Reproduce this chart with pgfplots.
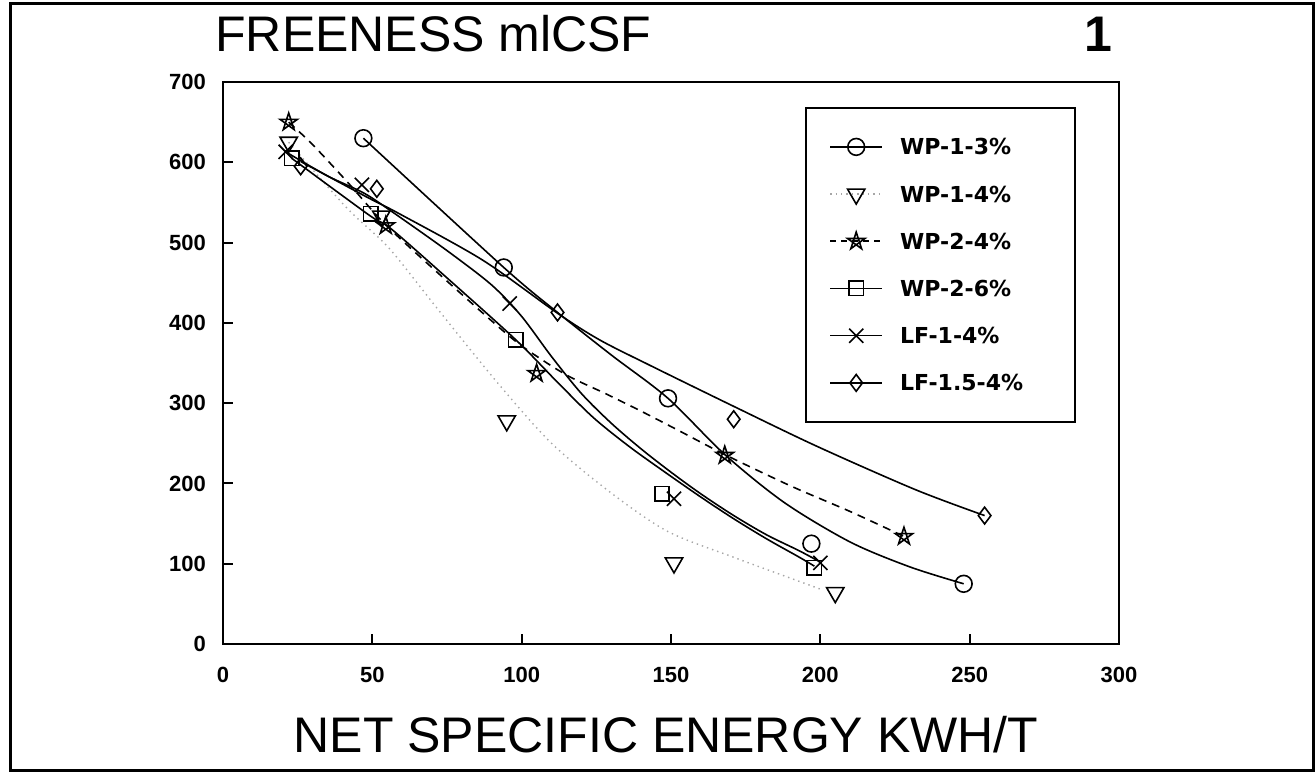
\documentclass[border=0pt]{standalone}
\usepackage{fontspec}
\setmainfont{Liberation Sans}
\newfontfamily\legfont{DejaVu Sans}
\usepackage{pgfplots}
\pgfplotsset{compat=1.18}
\pgfdeclareplotmark{pstar}{%
 \pgfpathmoveto{\pgfqpointpolar{90}{\pgfplotmarksize}}%
 \pgfpathlineto{\pgfqpointpolar{234}{\pgfplotmarksize}}%
 \pgfpathlineto{\pgfqpointpolar{18}{\pgfplotmarksize}}%
 \pgfpathlineto{\pgfqpointpolar{162}{\pgfplotmarksize}}%
 \pgfpathlineto{\pgfqpointpolar{306}{\pgfplotmarksize}}%
 \pgfpathclose\pgfusepathqstroke}
\pgfdeclareplotmark{dtri}{%
 \pgfpathmoveto{\pgfqpoint{0pt}{-\pgfplotmarksize}}%
 \pgfpathlineto{\pgfqpoint{0.866\pgfplotmarksize}{0.5\pgfplotmarksize}}%
 \pgfpathlineto{\pgfqpoint{-0.866\pgfplotmarksize}{0.5\pgfplotmarksize}}%
 \pgfpathclose\pgfusepathqstroke}
\begin{document}
\begin{tikzpicture}
\useasboundingbox (0,0) rectangle (658pt,386.5pt);
\draw[line width=1.5pt] (5pt,1.5pt) rectangle (656.5pt,384.5pt);
\node[anchor=base west, font=\fontsize{25}{25}\selectfont, inner sep=0] at (107.5pt,360.5pt) {FREENESS mlCSF};
\node[anchor=base, font=\bfseries\fontsize{25}{25}\selectfont, inner sep=0] at (549pt,360.5pt) {1};
\node[anchor=base, font=\fontsize{25}{25}\selectfont, inner sep=0] at (333pt,10.5pt) {NET SPECIFIC ENERGY KWH/T};
\begin{axis}[
 at={(111.5pt,64.5pt)}, anchor=south west,
 scale only axis, width=448pt, height=281pt,
 xmin=0, xmax=300, ymin=0, ymax=700,
 xtick={0,50,...,300}, ytick={0,100,...,700},
 tick align=inside, tick pos=left, major tick length=5pt,
 axis line style={line width=1.4pt},
 tick style={line width=1pt, black},
 ticklabel style={font=\bfseries\fontsize{11}{11}\selectfont},
 /pgf/number format/assume math mode=true,
 xticklabel style={yshift=-8pt}, yticklabel style={xshift=-5pt},
 legend cell align=left,
 legend style={at={(axis cs:195,669)}, anchor=north west, draw=black, line width=1pt,
   inner xsep=11.5pt, inner ysep=13.5pt, row sep=11.6pt,
   font=\legfont\bfseries\fontsize{11}{11}\selectfont,
   nodes={text height=8pt, text depth=0pt}},
]
% fitted curves
\addplot[forget plot, smooth, black, line width=0.8pt] coordinates {
 (47,630) (94,469) (112,413) (130,360) (149,306) (168,236) (188,176) (210,127) (230,96) (248,75)};
\addplot[forget plot, smooth, gray!70, dotted, line width=0.7pt] coordinates {
 (22,625) (41,545) (53,503) (59,478) (73,412) (92,325) (110,250) (130,188) (149,140) (171,108) (190,82) (201,67)};
\addplot[forget plot, smooth, black, dash pattern=on 4pt off 3pt, line width=0.8pt] coordinates {
 (22,650) (30,622) (42,574) (54.5,522) (75,452) (96,383) (106,356) (116,333) (128,312) (140,290) (152,267) (168,236) (190,197) (210,165) (228,134)};
\addplot[forget plot, smooth, black, line width=0.8pt] coordinates {
 (23,605) (49,534) (56,518) (75,456) (98,379) (112,326) (124,282) (136,246) (148,214) (160,183) (171,156) (182,131) (193,108) (198,97)};
\addplot[forget plot, smooth, black, line width=0.8pt] coordinates {
 (21,613) (35,583) (47,562) (56,540) (75,490) (90,447) (100,408) (110,358) (120,312) (130,275) (140,243) (150,214) (160,187) (171,160) (182,136) (193,116) (200,102)};
\addplot[forget plot, smooth, black, line width=0.8pt] coordinates {
 (26,601) (48,557) (59,536) (87,478) (112,412) (126,379) (143,347) (171,296) (199,246) (232,192) (255,160)};
% markers
\addplot[only marks, black, mark=o, mark size=4.2pt, line width=0.8pt,
 legend image code/.code={\draw[black,solid,line width=0.8pt] (0pt,0pt)--(26pt,0pt);
  \draw[black,solid,line width=0.8pt] plot[mark=o,mark size=4.2pt] coordinates {(13pt,0pt)};
  \path[draw=none] (0pt,0pt)--(33pt,0pt);}] coordinates {
 (47,630) (94,469) (149,306) (197,125) (248,75)};
\addlegendentry{\makebox[74pt][l]{WP-1-3\%}}
\addplot[only marks, black, mark=dtri, mark size=5pt, line width=0.8pt,
 legend image code/.code={\draw[gray!70,dotted,line width=0.7pt] (0pt,0pt)--(26pt,0pt);
  \draw[black,solid,line width=0.8pt] plot[mark=dtri,mark size=5pt] coordinates {(13pt,0pt)};
  \path[draw=none] (0pt,0pt)--(33pt,0pt);}] coordinates {
 (22,625) (53,533) (95,278) (151,101) (205,64)};
\addlegendentry{\makebox[74pt][l]{WP-1-4\%}}
\addplot[only marks, black, mark=pstar, mark size=4.6pt, line width=0.8pt,
 legend image code/.code={\draw[black,dash pattern=on 3pt off 2.5pt,line width=0.8pt] (0pt,0pt)--(26pt,0pt);
  \draw[black,solid,line width=0.8pt] plot[mark=pstar,mark size=4.6pt] coordinates {(13pt,0pt)};
  \path[draw=none] (0pt,0pt)--(33pt,0pt);}] coordinates {
 (22,650) (54.5,521) (105,337) (168,235) (228,134)};
\addlegendentry{\makebox[74pt][l]{WP-2-4\%}}
\addplot[only marks, black, mark=square, mark size=3.6pt, line width=0.8pt,
 legend image code/.code={\draw[black,solid,line width=0.8pt] (0pt,0pt)--(26pt,0pt);
  \draw[black,solid,line width=0.8pt] plot[mark=square,mark size=3.6pt] coordinates {(13pt,0pt)};
  \path[draw=none] (0pt,0pt)--(33pt,0pt);}] coordinates {
 (23,605) (49.5,536) (98,379) (147,187) (198,95)};
\addlegendentry{\makebox[74pt][l]{WP-2-6\%}}
\addplot[only marks, black, mark=x, mark size=5pt, line width=0.8pt,
 legend image code/.code={\draw[black,solid,line width=0.8pt] (0pt,0pt)--(26pt,0pt);
  \draw[black,solid,line width=0.8pt] plot[mark=x,mark size=5pt] coordinates {(13pt,0pt)};
  \path[draw=none] (0pt,0pt)--(33pt,0pt);}] coordinates {
 (21,613) (46.5,572) (96,424) (151,181) (200,101)};
\addlegendentry{\makebox[74pt][l]{LF-1-4\%}}
\addplot[only marks, black, mark=diamond, mark size=4.2pt, line width=0.8pt,
 legend image code/.code={\draw[black,solid,line width=0.8pt] (0pt,0pt)--(26pt,0pt);
  \draw[black,solid,line width=0.8pt] plot[mark=diamond,mark size=4.2pt] coordinates {(13pt,0pt)};
  \path[draw=none] (0pt,0pt)--(33pt,0pt);}] coordinates {
 (26,595) (51.5,567) (112,413) (171,280) (255,160)};
\addlegendentry{\makebox[74pt][l]{LF-1.5-4\%}}
\end{axis}
\end{tikzpicture}
\end{document}
